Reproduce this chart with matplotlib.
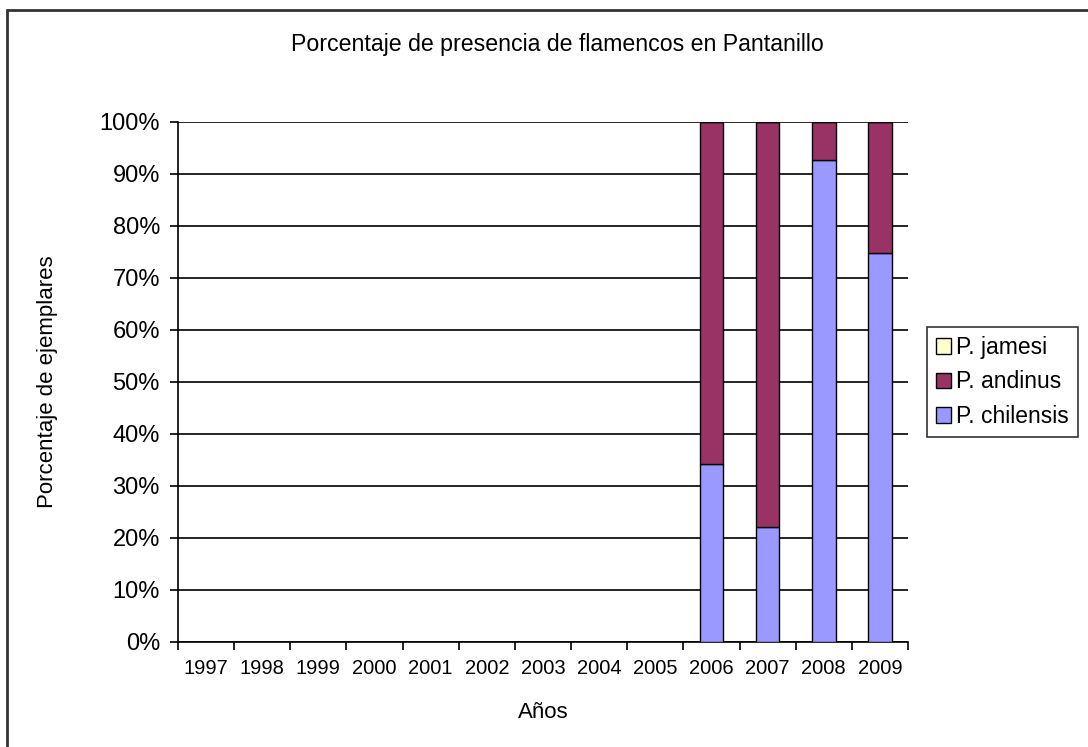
import numpy as np
import matplotlib.pyplot as plt
from matplotlib.patches import Rectangle
from matplotlib.ticker import MultipleLocator, FixedLocator

plt.rcParams['font.family'] = ['Liberation Sans', 'DejaVu Sans']

# data (percent of birds per year)
years = ['1997', '1998', '1999', '2000', '2001', '2002', '2003', '2004',
         '2005', '2006', '2007', '2008', '2009']
chilensis = [0, 0, 0, 0, 0, 0, 0, 0, 0, 34.2, 22.2, 92.6, 74.9]
andinus = [0, 0, 0, 0, 0, 0, 0, 0, 0, 65.8, 77.8, 7.4, 25.1]
jamesi = [0, 0, 0, 0, 0, 0, 0, 0, 0, 0, 0, 0, 0]
has_data = [False] * 9 + [True] * 4

fig = plt.figure(figsize=(10.88, 7.47), dpi=100)
ax = fig.add_axes([178 / 1088, 1 - 642 / 747, 730 / 1088, 520 / 747])

x = np.arange(len(years))
w = 0.42
idx = [i for i in range(len(years)) if has_data[i]]
c = np.array(chilensis)[idx]
a = np.array(andinus)[idx]
j = np.array(jamesi)[idx]
xs = x[idx]

b1 = ax.bar(xs, c, width=w, color='#9999FF', edgecolor='black', linewidth=1.0,
            label='P. chilensis', zorder=3)
b2 = ax.bar(xs, a, width=w, bottom=c, color='#993366', edgecolor='black',
            linewidth=1.0, label='P. andinus', zorder=3)
b3 = ax.bar(xs, j, width=w, bottom=c + a, color='#FFFFCC', edgecolor='black',
            linewidth=1.0, label='P. jamesi', zorder=3)

ax.set_xlim(-0.5, len(years) - 0.5)
ax.set_ylim(0, 100)
ax.yaxis.set_major_locator(MultipleLocator(10))
ax.set_yticklabels([f'{int(v)}%' for v in ax.get_yticks()])
ax.grid(axis='y', color='black', linewidth=1.2, zorder=0)

ax.set_xticks(x)
ax.set_xticklabels(years, fontsize=14.5)
ax.tick_params(axis='x', which='major', length=0, pad=12)
ax.xaxis.set_minor_locator(FixedLocator(np.arange(-0.5, len(years), 1)))
ax.tick_params(axis='x', which='minor', length=6, width=1.2, direction='out')
ax.tick_params(axis='y', length=6, width=1.2, direction='out', labelsize=17, pad=7)

for s in ['top', 'right']:
    ax.spines[s].set_visible(False)
for s in ['left', 'bottom']:
    ax.spines[s].set_linewidth(1.2)

ax.set_xlabel('Años', fontsize=16)
ax.xaxis.set_label_coords(0.5, -(702 - 642) / 520)
ax.set_ylabel('Porcentaje de ejemplares', fontsize=16)
ax.yaxis.set_label_coords(-(178 - 58) / 730, 0.5)
fig.text(557 / 1088, 1 - 45 / 747, 'Porcentaje de presencia de flamencos en Pantanillo',
         ha='center', va='center', fontsize=16.7)

leg = fig.legend(handles=[b3, b2, b1], labels=['P. jamesi', 'P. andinus', 'P. chilensis'],
                 loc='center left', bbox_to_anchor=(927 / 1088, 1 - 382 / 747),
                 fontsize=16.5, frameon=True, fancybox=False, edgecolor='black',
                 handlelength=0.65, handleheight=0.65, handletextpad=0.2,
                 borderpad=0.4, labelspacing=0.5, borderaxespad=0)
leg.get_frame().set_linewidth(1.2)

fig.patches.append(Rectangle((7 / 1088, -0.2), 1.5, 1.2 - 10 / 747,
                             transform=fig.transFigure, fill=False,
                             edgecolor='#333333', linewidth=2.0))

fig.savefig('out.png', dpi=100)
